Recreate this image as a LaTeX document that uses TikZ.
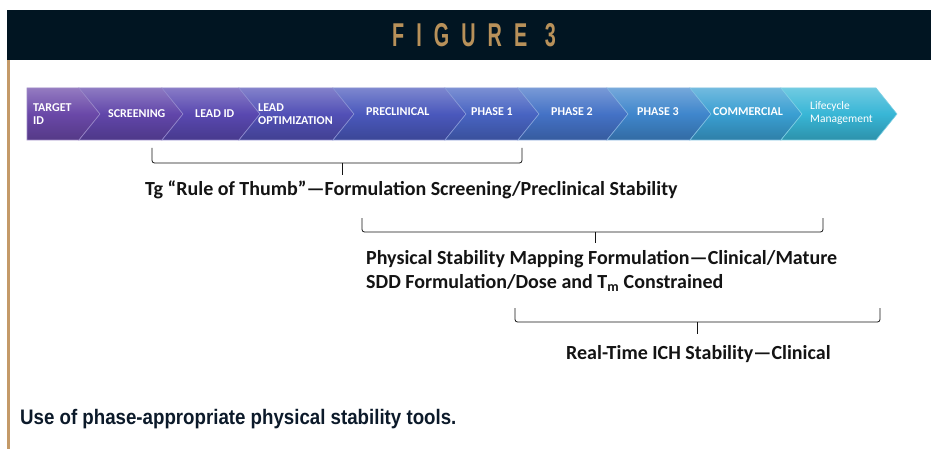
\documentclass[tikz,border=0pt]{standalone}
\usepackage{fontspec}
\setmainfont{Carlito}
\newfontfamily\figfont[LetterSpace=61]{Liberation Sans}
\newfontfamily\capfont{Liberation Sans}
\usetikzlibrary{positioning}

\definecolor{navy}{HTML}{011522}
\definecolor{tan}{HTML}{C49A68}
\definecolor{figtan}{HTML}{B8915A}
\definecolor{capnavy}{HTML}{0C1A2A}
\definecolor{txt}{HTML}{141414}
\definecolor{c1}{HTML}{6A48A8}
\definecolor{c2}{HTML}{6146AA}
\definecolor{c3}{HTML}{5948B0}
\definecolor{c4}{HTML}{5250B6}
\definecolor{c5}{HTML}{4A58BC}
\definecolor{c6}{HTML}{4864C2}
\definecolor{c7}{HTML}{4472C6}
\definecolor{c8}{HTML}{3F86CC}
\definecolor{c9}{HTML}{3A9FD2}
\definecolor{c10}{HTML}{38B6D6}

\begin{document}
\begin{tikzpicture}[x=1pt, y=-1pt,
    chev/.style={draw=#1!65!white, line width=0.6pt, top color=#1!72!white, bottom color=#1!80!black, middle color=#1},
    lab/.style={font=\fontsize{12}{13}\selectfont\bfseries, text=white, align=left, anchor=west, inner sep=0pt},
    note/.style={font=\fontsize{20}{24}\selectfont\bfseries, text=txt, align=left, anchor=base west, inner sep=0pt},
    brc/.style={draw=txt, line width=0.8pt, rounded corners=2.5pt}
]
    \useasboundingbox (0,0) rectangle (931,449);
    \fill[white] (0,0) rectangle (931,449);

    % header
    \fill[navy] (7,10) rectangle (931,60);
    \node[font=\fontsize{33}{33}\selectfont\figfont\bfseries, text=figtan, anchor=base west, inner sep=0pt, xscale=0.6] (fig) at (392,47) {FIGURE 3};
    \fill[tan] (7,60) rectangle (10,449);

    % chevron band
    \path[chev=c1] (27,88) -- (79,88) -- (100,114) -- (79,140) -- (27,140) -- cycle;
    \path[chev=c2] (79,88) -- (162,88) -- (183,114) -- (162,140) -- (79,140) -- (100,114) -- cycle;
    \path[chev=c3] (162,88) -- (239,88) -- (260,114) -- (239,140) -- (162,140) -- (183,114) -- cycle;
    \path[chev=c4] (239,88) -- (333,88) -- (354,114) -- (333,140) -- (239,140) -- (260,114) -- cycle;
    \path[chev=c5] (333,88) -- (445,88) -- (466,114) -- (445,140) -- (333,140) -- (354,114) -- cycle;
    \path[chev=c6] (445,88) -- (518,88) -- (539,114) -- (518,140) -- (445,140) -- (466,114) -- cycle;
    \path[chev=c7] (518,88) -- (607,88) -- (628,114) -- (607,140) -- (518,140) -- (539,114) -- cycle;
    \path[chev=c8] (607,88) -- (690,88) -- (711,114) -- (690,140) -- (607,140) -- (628,114) -- cycle;
    \path[chev=c9] (690,88) -- (781,88) -- (802,114) -- (781,140) -- (690,140) -- (711,114) -- cycle;
    \path[chev=c10] (781,88) -- (876,88) -- (897,114) -- (876,140) -- (781,140) -- (802,114) -- cycle;

    \node[lab] (tgt) at (33,114) {TARGET\\ID};
    \node[lab] (scr) at (108,114) {SCREENING};
    \node[lab] (lid) at (195,114) {LEAD ID};
    \node[lab] (lopt) at (258,114) {LEAD\\OPTIMIZATION};
    \node[lab] (pre) at (366,112) {PRECLINICAL};
    \node[lab] (ph1) at (471,112) {PHASE 1};
    \node[lab] (ph2) at (551,112) {PHASE 2};
    \node[lab] (ph3) at (637,112) {PHASE 3};
    \node[lab] (com) at (713,112) {COMMERCIAL};
    \node[lab, font=\fontsize{11.5}{13}\selectfont] (life) at (810,113) {Lifecycle\\Management};

    % braces
    \coordinate (b1l) at (152,148); \coordinate (b1m) at (342,163);
    \coordinate (b1r) at (522,148); \coordinate (b1t) at (342,175);
    \draw[brc] (b1l) |- (b1m) -| (b1r);
    \draw[brc] (b1m) -- (b1t);
    \node[note] (rot) at (145,196) {Tg “Rule of Thumb”—Formulation Screening/Preclinical Stability};

    \coordinate (b2l) at (362,218); \coordinate (b2m) at (595,232);
    \coordinate (b2r) at (823,218); \coordinate (b2t) at (595,243);
    \draw[brc] (b2l) |- (b2m) -| (b2r);
    \draw[brc] (b2m) -- (b2t);
    \node[note] (map) at (366,288) {Physical Stability Mapping Formulation—Clinical/Mature\\SDD Formulation/Dose and T\textsubscript{m} Constrained};

    \coordinate (b3l) at (515,308); \coordinate (b3m) at (697,322);
    \coordinate (b3r) at (880,308); \coordinate (b3t) at (697,334);
    \draw[brc] (b3l) |- (b3m) -| (b3r);
    \draw[brc] (b3m) -- (b3t);
    \node[note] (ich) at (566,359) {Real-Time ICH Stability—Clinical};

    % caption
    \node[font=\fontsize{21}{21}\selectfont\capfont\bfseries, text=capnavy, anchor=base west, inner sep=0pt, xscale=0.89] (cap) at (20,424) {Use of phase-appropriate physical stability tools.};
\end{tikzpicture}
\end{document}
